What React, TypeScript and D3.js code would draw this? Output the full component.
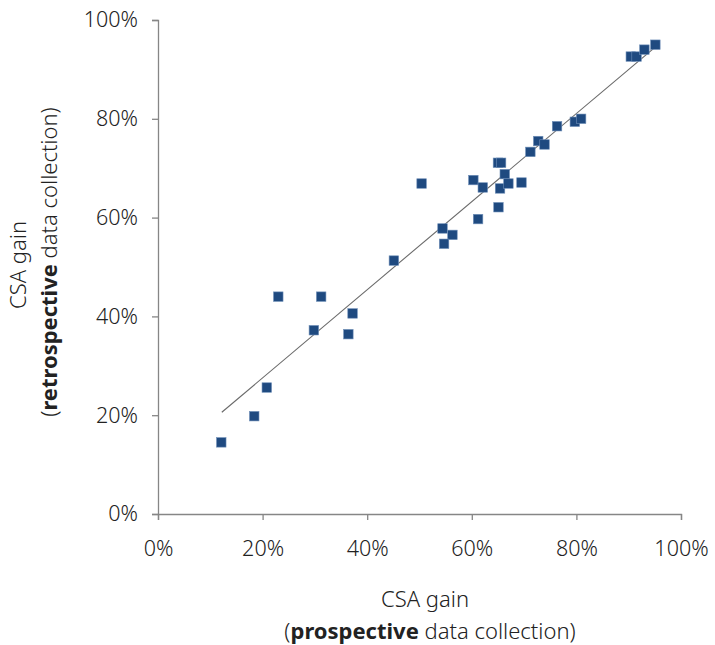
import React, { useEffect, useRef } from 'react';
import * as d3 from 'd3';

// prospective (x) vs retrospective (y) CSA gain, percent
const prospective = [
  12.1, 18.4, 20.8, 23.0, 31.2, 29.8, 37.2, 36.4, 45.1, 50.4,
  65.0, 65.6, 60.3, 62.1, 66.3, 65.4, 67.0, 69.5, 65.1, 61.2,
  54.4, 56.3, 54.7, 71.2, 72.7, 73.9, 76.3, 79.7, 80.9, 90.4,
  91.5, 93.0, 95.1,
];
const retrospective = [
  14.5, 19.8, 25.6, 44.0, 44.0, 37.2, 40.6, 36.4, 51.3, 66.9,
  71.1, 71.1, 67.6, 66.1, 68.8, 65.9, 66.9, 67.1, 62.1, 59.7,
  57.8, 56.5, 54.7, 73.3, 75.5, 74.8, 78.5, 79.4, 80.0, 92.6,
  92.6, 94.0, 95.0,
];
const ticks = [0, 20, 40, 60, 80, 100];
// linear trend line
const trendFrom = 12.2;
const trendTo = 95.3;
const trendSlope = 0.892;
const trendIntercept = 9.72;

const font = '"Noto Sans", sans-serif';

export default () => {
  const svgRef = useRef<SVGSVGElement>(null);

  useEffect(() => {
    if (!svgRef.current) return;
    const svg = d3.select(svgRef.current);
    svg.selectAll('*').remove();

    const x = d3.scaleLinear().domain([0, 100]).range([158, 681]);
    const y = d3.scaleLinear().domain([0, 100]).range([514, 20]);
    const axisColor = '#868686';

    const xAxis = svg.append('g')
      .attr('transform', `translate(0, ${y(0)})`)
      .call(d3.axisBottom(x).tickValues(ticks).tickSize(6).tickPadding(21).tickFormat(d => `${d}%`));
    const yAxis = svg.append('g')
      .attr('transform', `translate(${x(0)}, 0)`)
      .call(d3.axisLeft(y).tickValues(ticks).tickSize(6).tickPadding(14).tickFormat(d => `${d}%`));

    [xAxis, yAxis].forEach(g => {
      g.select('.domain').attr('stroke', axisColor).attr('stroke-width', 1.3);
      g.selectAll('.tick line').attr('stroke', axisColor).attr('stroke-width', 1.3);
      g.selectAll('.tick text')
        .attr('fill', '#222')
        .style('font-family', font)
        .style('font-size', '21.5px')
        .style('font-weight', 300);
    });

    // trend line
    const line = d3.line<number>().x(d => x(d)).y(d => y(trendSlope * d + trendIntercept));
    svg.append('path')
      .attr('d', line([trendFrom, trendTo]))
      .attr('fill', 'none')
      .attr('stroke', '#6a6a6a')
      .attr('stroke-width', 1.1);

    const size = 9.5;
    svg.append('g')
      .selectAll('rect')
      .data(prospective.map((p, i) => [p, retrospective[i]]))
      .enter()
      .append('rect')
      .attr('x', d => x(d[0]) - size / 2)
      .attr('y', d => y(d[1]) - size / 2)
      .attr('width', size)
      .attr('height', size)
      .attr('fill', '#1F4A80')
      .attr('stroke', '#6f8fb8')
      .attr('stroke-width', 0.6);

    const titleStyle = (t: d3.Selection<SVGTextElement, unknown, null, undefined>) =>
      t.style('font-family', font).style('font-size', '22px').style('font-weight', 300).attr('fill', '#222').attr('text-anchor', 'middle');

    // x title
    const xt = svg.append('text').attr('x', 425).attr('y', 607).call(titleStyle);
    xt.append('tspan').text('CSA gain');
    const xt2 = svg.append('text').attr('x', 430).attr('y', 639).call(titleStyle);
    xt2.append('tspan').text('(');
    xt2.append('tspan').style('font-weight', 700).text('prospective');
    xt2.append('tspan').text(' data collection)');

    // y title
    const yt = svg.append('text').attr('transform', 'translate(26, 265) rotate(-90)').call(titleStyle);
    yt.append('tspan').text('CSA gain');
    const yt2 = svg.append('text').attr('transform', 'translate(57, 262) rotate(-90)').call(titleStyle);
    yt2.append('tspan').text('(');
    yt2.append('tspan').style('font-weight', 700).text('retrospective');
    yt2.append('tspan').text(' data collection)');
  }, []);

  return (
    <svg ref={svgRef} width={715} height={645} style={{ position: 'absolute', left: 0, top: 0 }} />
  );
};
